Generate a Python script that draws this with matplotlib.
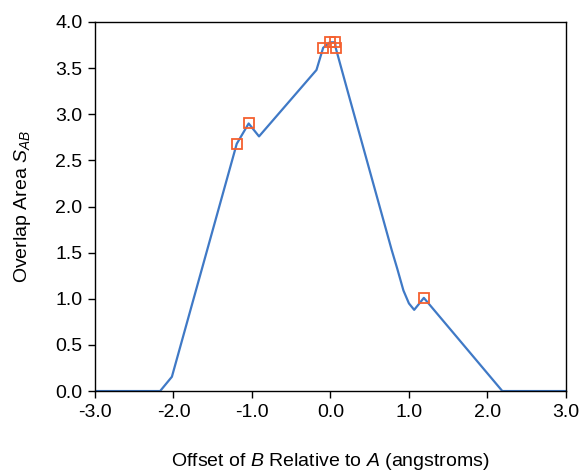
import matplotlib
matplotlib.use("Agg")
import matplotlib.pyplot as plt

# overlap curve
curve_x = [-3.0, -2.17, -2.02, -1.194, -1.042, -0.91, -0.178, -0.093, -0.009, 0.06, 0.067,
           0.216, 0.78, 0.85, 0.93, 1.0, 1.067, 1.19, 2.19, 3.0]
curve_y = [0.0, 0.0, 0.155, 2.68, 2.90, 2.76, 3.48, 3.72, 3.78, 3.78, 3.72,
           3.26, 1.53, 1.33, 1.09, 0.95, 0.88, 1.01, 0.0, 0.0]

# highlighted points
marker_x = [-1.194, -1.042, -0.093, -0.009, 0.06, 0.067, 1.19]
marker_y = [2.68, 2.90, 3.72, 3.78, 3.78, 3.72, 1.01]

x_ticks = [-3.0, -2.0, -1.0, 0.0, 1.0, 2.0, 3.0]
y_ticks = [0.0, 0.5, 1.0, 1.5, 2.0, 2.5, 3.0, 3.5, 4.0]

plt.rcParams["font.family"] = ["Liberation Sans", "DejaVu Sans"]
plt.rcParams["mathtext.fontset"] = "custom"
plt.rcParams["mathtext.rm"] = "Liberation Sans"
plt.rcParams["mathtext.it"] = "Liberation Sans:italic"

fig = plt.figure(figsize=(5.81, 4.74), dpi=100)
ax = fig.add_axes([0.1635, 0.175, 0.8105, 0.7786])

ax.plot(curve_x, curve_y, color="#3f79c6", linewidth=1.6, zorder=2)
ax.plot(marker_x, marker_y, linestyle="none", marker="s", markersize=6.5,
        markerfacecolor="none", markeredgecolor="#f4602f", markeredgewidth=1.3, zorder=3)

ax.set_xlim(-3.0, 3.0)
ax.set_ylim(0.0, 4.0)
ax.set_xticks(x_ticks)
ax.set_yticks(y_ticks)
ax.set_xticklabels([f"{v:.1f}" for v in x_ticks])
ax.set_yticklabels([f"{v:.1f}" for v in y_ticks])
ax.tick_params(direction="out", length=5, width=1, labelsize=14, colors="black", pad=4)
for s in ax.spines.values():
    s.set_linewidth(1.0)

ax.set_xlabel("Offset of $B$ Relative to $A$ (angstroms)", fontsize=14, labelpad=22)
ax.set_ylabel("Overlap Area $S_{AB}$", fontsize=14, labelpad=16)

fig.savefig("out.png", dpi=100)
